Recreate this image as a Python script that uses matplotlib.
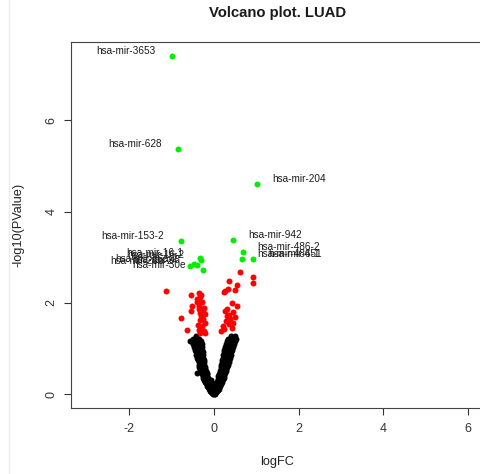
import matplotlib
matplotlib.use('Agg')
from matplotlib import pyplot as plt
from matplotlib.lines import Line2D

plt.rcParams['font.family'] = ['Liberation Sans', 'DejaVu Sans']
plt.rcParams['axes.unicode_minus'] = False

# significant miRNAs (green) with labels
sig_names = ['hsa-mir-3653', 'hsa-mir-628', 'hsa-mir-204', 'hsa-mir-153-2', 'hsa-mir-942',
             'hsa-mir-16-1', 'hsa-mir-16-2', 'hsa-mir-29b-2', 'hsa-mir-26a-2', 'hsa-mir-98',
             'hsa-mir-30e', 'hsa-mir-486-2', 'hsa-mir-486-1', 'hsa-mir-451']
sig_fc = [-0.985, -0.84, 1.02, -0.77, 0.46,
          -0.32, -0.30, -0.56, -0.46, -0.40,
          -0.26, 0.68, 0.66, 0.93]
sig_p = [7.41, 5.37, 4.61, 3.36, 3.37,
         2.99, 2.95, 2.80, 2.86, 2.82,
         2.72, 3.12, 2.96, 2.97]

# moderately significant (red)
red_fc = [0.62, 0.93, 0.93, 0.36, 0.55, 0.34, 0.51, 0.24, -1.13, -0.54,
          -0.36, -0.32, -0.39, -0.28, -0.34, -0.52, -0.54, -0.36, -0.25, -0.30,
          -0.21, -0.77, -0.32, -0.21, -0.29, -0.34, -0.23, -0.64, -0.32, -0.21,
          0.42, 0.55, 0.32, 0.46, 0.37, 0.50, 0.32, 0.38, 0.45, 0.29,
          0.21, 0.18, 0.42, 0.27, 0.27, -0.30, -0.40, -0.26, -0.37, -0.24,
          -0.33, 0.35, 0.24]
red_p = [2.67, 2.56, 2.43, 2.47, 2.40, 2.30, 2.28, 2.24, 2.27, 2.17,
         2.21, 2.13, 2.08, 2.02, 1.93, 1.93, 1.82, 1.86, 1.80, 1.71,
         1.75, 1.68, 1.62, 1.56, 1.49, 1.42, 1.38, 1.41, 1.35, 1.35,
         2.00, 1.93, 1.87, 1.80, 1.73, 1.70, 1.71, 1.64, 1.57, 1.60,
         1.49, 1.38, 1.46, 1.82, 2.26, 2.18, 2.02, 1.66, 1.52, 1.90,
         1.78, 1.55, 1.44]

# not significant (black), row by row from the bottom of the V
ns_fc = [-0.02, 0.0, 0.02,
         -0.04, -0.01, 0.02, 0.04,
         -0.06, -0.03, 0.0, 0.03, 0.06,
         -0.08, -0.04, 0.01, 0.05, 0.08,
         -0.1, -0.06, -0.02, 0.02, 0.06, 0.1,
         -0.12, -0.08, -0.03, 0.01, 0.05, 0.09, 0.12,
         -0.14, -0.09, -0.05, 0.0, 0.04, 0.08, 0.13,
         -0.16, -0.11, -0.06, 0.03, 0.07, 0.11, 0.15,
         -0.17, -0.12, -0.07, 0.05, 0.1, 0.16,
         -0.19, -0.14, -0.09, -0.04, 0.06, 0.11, 0.15, 0.18,
         -0.2, -0.15, -0.1, 0.08, 0.13, 0.19,
         -0.22, -0.17, -0.12, -0.07, 0.09, 0.14, 0.2,
         -0.23, -0.18, -0.13, 0.1, 0.16, 0.21,
         -0.25, -0.19, -0.14, 0.12, 0.17, 0.23,
         -0.26, -0.21, -0.15, 0.11, 0.16, 0.21, 0.25,
         -0.28, -0.22, -0.16, 0.13, 0.18, 0.24,
         -0.4, -0.29, -0.23, -0.17, 0.14, 0.2, 0.26,
         -0.31, -0.25, -0.18, 0.15, 0.21, 0.28,
         -0.32, -0.26, -0.2, 0.17, 0.23, 0.3,
         -0.34, -0.27, -0.21, 0.16, 0.24, 0.31,
         -0.35, -0.29, -0.22, 0.18, 0.26, 0.33,
         -0.36, -0.3, -0.23, 0.19, 0.27, 0.35,
         -0.38, -0.31, -0.24, 0.2, 0.29, 0.36,
         -0.39, -0.32, -0.25, 0.21, 0.3, 0.38,
         -0.41, -0.33, -0.25, 0.22, 0.32, 0.4,
         -0.42, -0.34, -0.26, 0.23, 0.33, 0.41,
         -0.44, -0.36, -0.27, 0.25, 0.35, 0.43,
         -0.46, -0.37, -0.28, 0.27, 0.37, 0.45,
         -0.48, -0.39, -0.29, 0.29, 0.39, 0.47,
         -0.55, -0.41, -0.3, 0.31, 0.42, 0.49,
         -0.5, -0.36, 0.34, 0.45, 0.52,
         -0.42, 0.4, 0.5]
ns_p = [0.01] * 3 + [0.03] * 4 + [0.05] * 5 + [0.07] * 5 + [0.10] * 6 \
    + [0.13] * 7 + [0.16] * 7 + [0.19] * 7 + [0.22] * 6 + [0.25] * 8 \
    + [0.28] * 6 + [0.31] * 7 + [0.34] * 6 + [0.37] * 6 + [0.40] * 7 \
    + [0.44] * 6 + [0.48] * 7 + [0.52] * 6 + [0.56] * 6 + [0.60] * 6 \
    + [0.65] * 6 + [0.70] * 6 + [0.75] * 6 + [0.80] * 6 + [0.86] * 6 \
    + [0.92] * 6 + [0.98] * 6 + [1.04] * 6 + [1.10] * 6 + [1.16] * 6 \
    + [1.22] * 5 + [1.27] * 3

x_ticks = [-2, 0, 2, 4, 6]
y_ticks = [0, 2, 4, 6]

fig = plt.figure(figsize=(4.8, 4.74), dpi=100)
fig.patch.set_facecolor('white')
ax = fig.add_axes([0.1488, 0.1392, 0.858, 0.7722])

ax.plot(ns_fc, ns_p, 'o', color='black', ms=4.3, mew=0)
ax.plot(red_fc, red_p, 'o', color='#ff0000', ms=4.3, mew=0)
ax.plot(sig_fc, sig_p, 'o', color='#00ee00', ms=4.3, mew=0)

for name, fc, p in zip(sig_names, sig_fc, sig_p):
    if fc < 0:
        ax.annotate(name, (fc, p), xytext=(-12.2, 3.6), textcoords='offset points',
                    ha='right', va='center', fontsize=7.2, color='#1a1a1a')
    else:
        ax.annotate(name, (fc, p), xytext=(10.8, 3.6), textcoords='offset points',
                    ha='left', va='center', fontsize=7.2, color='#1a1a1a')

ax.set_xlim(-3.36, 6.36)
ax.set_ylim(-0.296, 7.706)
ax.set_xticks(x_ticks)
ax.set_yticks(y_ticks)
ax.set_yticklabels([str(t) for t in y_ticks], rotation=90, va='center')
ax.tick_params(direction='out', length=5, width=0.8, colors='#333333',
               labelsize=9, pad=6)
ax.tick_params(axis='y', pad=5)
for s in ax.spines.values():
    s.set_color('#444444')
    s.set_linewidth(0.8)

fig.text(277.5 / 480, 1 - 12.5 / 474, 'Volcano plot. LUAD', ha='center', va='center',
         fontsize=10.7, fontweight='bold', color='#1a1a1a')
fig.text(277.5 / 480, 1 - 462 / 474, 'logFC', ha='center', va='center',
         fontsize=9.2, color='#222222')
fig.text(18 / 480, 1 - 225 / 474, '-log10(PValue)', ha='center', va='center',
         rotation=90, fontsize=9.2, color='#222222')

# faint window edge on the left
fig.add_artist(Line2D([9 / 480, 9 / 480], [0, 1], color='#ebebeb', lw=1))

plt.savefig('out.png', dpi=100)
